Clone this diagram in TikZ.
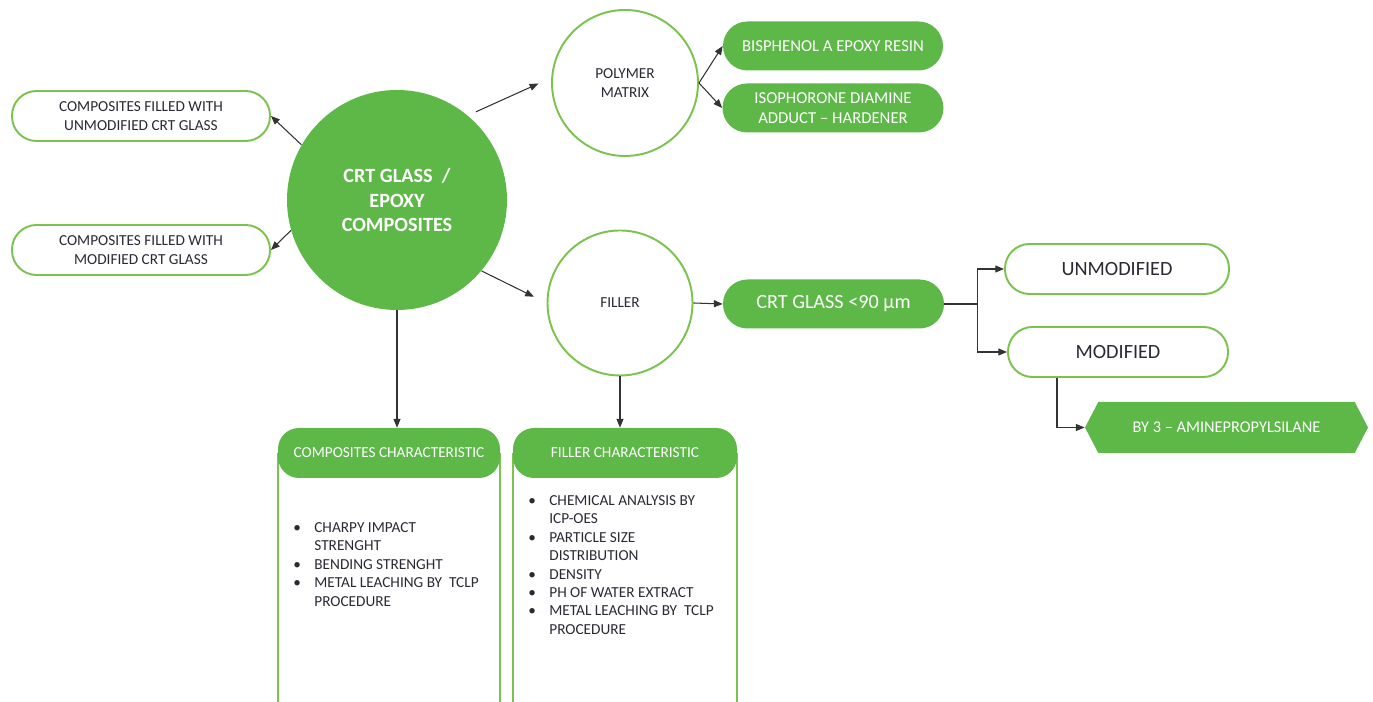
\documentclass[tikz,border=0pt]{standalone}
\usepackage{fontspec}
\setmainfont{Carlito}
\usetikzlibrary{arrows.meta, shapes.symbols, calc}
\definecolor{crtgreen}{HTML}{5DB848}
\definecolor{crtline}{HTML}{7CC24E}
\definecolor{inkdark}{HTML}{2A2A35}
\definecolor{arrowgray}{HTML}{333333}

\begin{document}
\begin{tikzpicture}[
  every node/.style={font=\fontsize{8.7}{10.5}\selectfont},
  outpill/.style={draw=crtline, line width=1.1pt, fill=white, rounded corners=0.49cm,
    minimum height=1cm, inner sep=2pt, text=inkdark, align=center},
  greenpill/.style={fill=crtgreen, rounded corners=0.49cm, minimum height=0.98cm,
    inner sep=2pt, text=white, align=center},
  ring/.style={circle, draw=crtline, line width=1.1pt, fill=white, text=inkdark, align=center},
  head/.style={fill=crtgreen, rounded corners=0.42cm, minimum height=1cm, text=white},
  side/.style={draw=crtline, line width=1.1pt},
  arr/.style={draw=arrowgray, line width=0.6pt, -{Triangle[length=5pt,width=4pt]}}
]
  \useasboundingbox (0,0) rectangle (27.46,14.04);

  % centre
  \node[circle, fill=crtgreen, minimum size=4.4cm, text=white, align=center,
        font=\bfseries\fontsize{11.5}{14}\selectfont] (core) at (7.94,10.04)
        {CRT GLASS\ \ /\\EPOXY\\COMPOSITES};

  \node[outpill, minimum width=5.16cm] (unmodcomp) at (2.82,11.72)
        {COMPOSITES FILLED WITH\\UNMODIFIED CRT GLASS};
  \node[outpill, minimum width=5.16cm] (modcomp) at (2.82,9.04)
        {COMPOSITES FILLED WITH\\MODIFIED CRT GLASS};

  % polymer matrix branch
  \node[ring, minimum size=2.92cm] (matrix) at (12.5,12.38) {POLYMER\\MATRIX};
  \node[greenpill, minimum width=4.4cm, font=\fontsize{9.5}{11.4}\selectfont] (resin)
        at (16.66,13.12) {BISPHENOL A EPOXY RESIN};
  \node[greenpill, minimum width=4.42cm, font=\fontsize{9.5}{11.4}\selectfont] (hardener)
        at (16.66,11.88) {ISOPHORONE DIAMINE\\ADDUCT -- HARDENER};

  % filler branch
  \node[ring, minimum size=2.9cm] (filler) at (12.4,7.98) {FILLER};
  \node[greenpill, minimum width=4.42cm, font=\fontsize{11.5}{14}\selectfont] (glass)
        at (16.67,7.96) {CRT GLASS <90 µm};
  \node[outpill, minimum width=4.48cm, font=\fontsize{11.5}{14}\selectfont] (unmod)
        at (22.34,8.66) {UNMODIFIED};
  \node[outpill, minimum width=4.4cm, font=\fontsize{11.5}{14}\selectfont] (mod)
        at (22.36,7.0) {MODIFIED};
  \node[signal, signal to=west and east, signal pointer angle=125, fill=crtgreen,
        minimum width=5.66cm, minimum height=1.02cm, text=white,
        font=\fontsize{9.3}{11}\selectfont] (silane) at (24.53,5.49)
        {BY 3 -- AMINEPROPYLSILANE};

  % characteristic boxes
  \draw[side] (5.56,4.98) -- (5.56,0);
  \draw[side] (10.0,4.98) -- (10.0,0);
  \draw[side] (10.26,4.98) -- (10.26,0);
  \draw[side] (14.74,4.98) -- (14.74,0);
  \node[head, minimum width=4.44cm] (compchar) at (7.78,4.98) {COMPOSITES CHARACTERISTIC};
  \node[head, minimum width=4.48cm] (fillchar) at (12.5,4.98) {FILLER CHARACTERISTIC};

  \node[anchor=north west, inner sep=0pt, text=inkdark] (complist) at (5.86,3.66)
  {\begin{tabular}{@{}p{0.42cm}@{}l@{}}
    \textbullet & CHARPY IMPACT\\
                & STRENGHT\\
    \textbullet & BENDING STRENGHT\\
    \textbullet & METAL LEACHING BY\ \ TCLP\\
                & PROCEDURE
  \end{tabular}};
  \node[anchor=north west, inner sep=0pt, text=inkdark] (filllist) at (10.56,4.2)
  {\begin{tabular}{@{}p{0.42cm}@{}l@{}}
    \textbullet & CHEMICAL ANALYSIS BY\\
                & ICP-OES\\
    \textbullet & PARTICLE SIZE\\
                & DISTRIBUTION\\
    \textbullet & DENSITY\\
    \textbullet & PH OF WATER EXTRACT\\
    \textbullet & METAL LEACHING BY\ \ TCLP\\
                & PROCEDURE
  \end{tabular}};

  % connectors
  \draw[arr] (core.150) -- (unmodcomp.east);
  \draw[arr] (core.196) -- (modcomp.east);
  \draw[arr, shorten <=5pt, shorten >=8pt] (core.50) -- (matrix.176);
  \draw[arr, shorten >=8pt] (core.-40) -- (filler.west);
  \draw[arr] (matrix.east) -- (resin.west);
  \draw[arr] (matrix.east) -- (hardener.west);
  \draw[arr] (filler.east) -- (glass.west);
  \coordinate (split) at ($(glass.east)+(0.66,0)$);
  \draw[arrowgray, line width=0.6pt] (glass.east) -- (split);
  \draw[arr] (split) |- (unmod.west);
  \draw[arr] (split) |- (mod.west);
  \draw[arr] ([xshift=-1.22cm]mod.south) |- (silane.west);
  \draw[arr] (core.south) -- (core.south |- compchar.north);
  \draw[arr] (filler.south) -- (filler.south |- fillchar.north);
\end{tikzpicture}
\end{document}
